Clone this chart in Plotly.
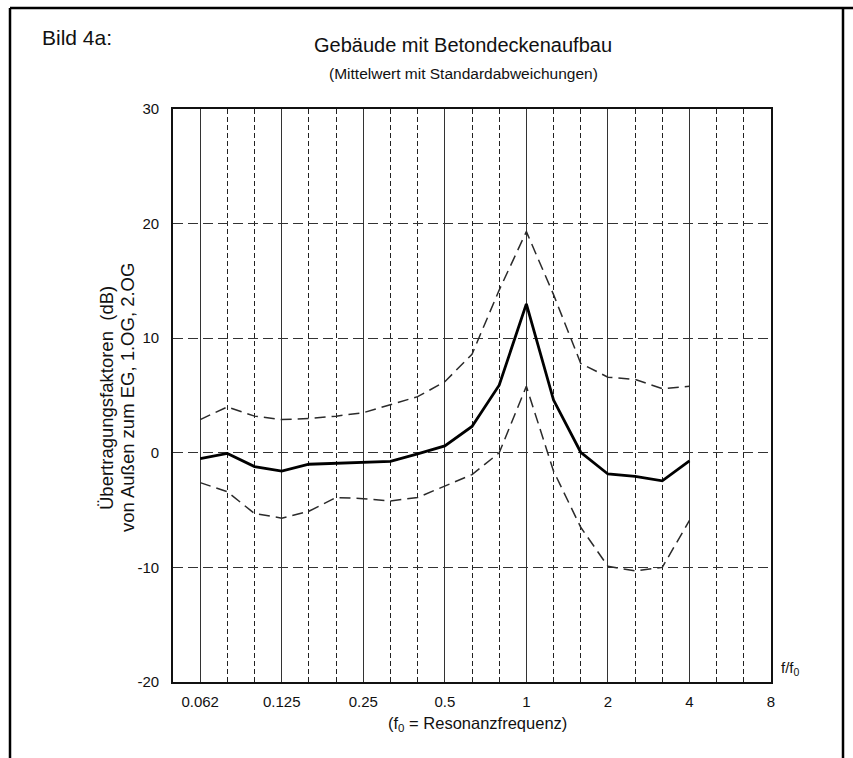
import numpy as np
import plotly.graph_objects as go

# third-octave steps n -> f/f0 = 2**(n/3)
steps = list(range(-12, 7))
mean_db = [-0.5, -0.05, -1.2, -1.6, -1.0, -0.9, -0.85, -0.75, -0.1, 0.6, 2.3, 5.9,
           13.0, 4.6, 0.05, -1.85, -2.05, -2.45, -0.7]
upper_db = [2.9, 4.0, 3.2, 2.9, 3.0, 3.2, 3.5, 4.2, 4.9, 6.2, 8.6, 14.2,
            19.3, 13.8, 7.8, 6.6, 6.4, 5.6, 5.8]
lower_db = [-2.6, -3.4, -5.3, -5.7, -5.1, -3.9, -4.0, -4.2, -3.9, -2.9, -1.9, 0.0,
            5.8, -1.6, -6.5, -9.9, -10.3, -10.0, -5.9]

octave_vals = [2.0 ** k for k in range(-4, 4)]
octave_labels = ["0.062", "0.125", "0.25", "0.5", "1", "2", "4", "8"]
third_vals = [2.0 ** (n / 3) for n in range(-11, 9) if n % 3 != 0]
y_ticks = [-20, -10, 0, 10, 20, 30]

x = [2.0 ** (n / 3) for n in steps]

FONT = "Liberation Sans, Arial, sans-serif"

fig = go.Figure()
fig.add_trace(go.Scatter(x=x, y=upper_db, mode="lines",
                         line=dict(color="#2a2a2a", width=1.5, dash="11px,6px"),
                         showlegend=False))
fig.add_trace(go.Scatter(x=x, y=lower_db, mode="lines",
                         line=dict(color="#2a2a2a", width=1.5, dash="11px,6px"),
                         showlegend=False))
fig.add_trace(go.Scatter(x=x, y=mean_db, mode="lines",
                         line=dict(color="#000000", width=2.8),
                         showlegend=False))

xmin = np.log10(2.0 ** (-13 / 3))
xmax = np.log10(8.0)

fig.update_layout(
    width=853, height=758,
    margin=dict(l=173, r=82, t=109, b=76),
    paper_bgcolor="white", plot_bgcolor="white",
    font=dict(family=FONT, color="#111111", size=15),
    xaxis=dict(type="log", range=[xmin, xmax],
               tickmode="array", tickvals=octave_vals, ticktext=octave_labels,
               showgrid=True, gridcolor="#333333", gridwidth=1.2,
               minor=dict(tickvals=third_vals, showgrid=True, gridcolor="#222222",
                          gridwidth=1.3, griddash="5px,3px"),
               showline=True, linecolor="#111111", linewidth=1.8, mirror=True,
               ticks="", ticklabelstandoff=5, zeroline=False,
               tickfont=dict(size=15)),
    yaxis=dict(range=[-20, 30], tickmode="array", tickvals=y_ticks,
               ticktext=[str(v) for v in y_ticks],
               showgrid=True, gridcolor="#333333", gridwidth=1.2, griddash="10px,5px",
               showline=True, linecolor="#111111", linewidth=1.8, mirror=True,
               ticks="", ticklabelstandoff=9, zeroline=False,
               tickfont=dict(size=15)),
)

def px_to_paper(px, py):
    return (px - 173) / 598.0, (682 - py) / 573.0

anns = []
def add_text(px, py, text, size, xanchor="center", angle=0):
    xp, yp = px_to_paper(px, py)
    anns.append(dict(x=xp, y=yp, xref="paper", yref="paper", text=text,
                     showarrow=False, xanchor=xanchor, yanchor="middle",
                     textangle=angle, font=dict(size=size, family=FONT, color="#111111")))

add_text(40, 37, "Bild 4a:", 21, xanchor="left")
add_text(463, 45, "Gebäude mit Betondeckenaufbau", 20)
add_text(463, 74, "(Mittelwert mit Standardabweichungen)", 15.5)
add_text(106, 398, "Übertragungsfaktoren  (dB)", 18.5, angle=-90)
add_text(127, 398, "von Außen zum EG, 1.OG, 2.OG", 18.5, angle=-90)
add_text(779, 668, "f/f<sub>0</sub>", 15, xanchor="left")
add_text(477, 724, "(f<sub>0</sub> = Resonanzfrequenz)", 16.5)
fig.update_layout(annotations=anns)

# page border of the scanned figure
shapes = []
lx, ty = px_to_paper(10, 8)
rx, by = px_to_paper(843, 758)
for (x0, y0, x1, y1) in [(lx, ty, rx + 0.02, ty), (lx, ty, lx, by), (rx, ty, rx, by)]:
    shapes.append(dict(type="line", xref="paper", yref="paper", x0=x0, y0=y0,
                       x1=x1, y1=y1, line=dict(color="#000000", width=2.5)))
fig.update_layout(shapes=shapes)

fig.write_html("out.html")
